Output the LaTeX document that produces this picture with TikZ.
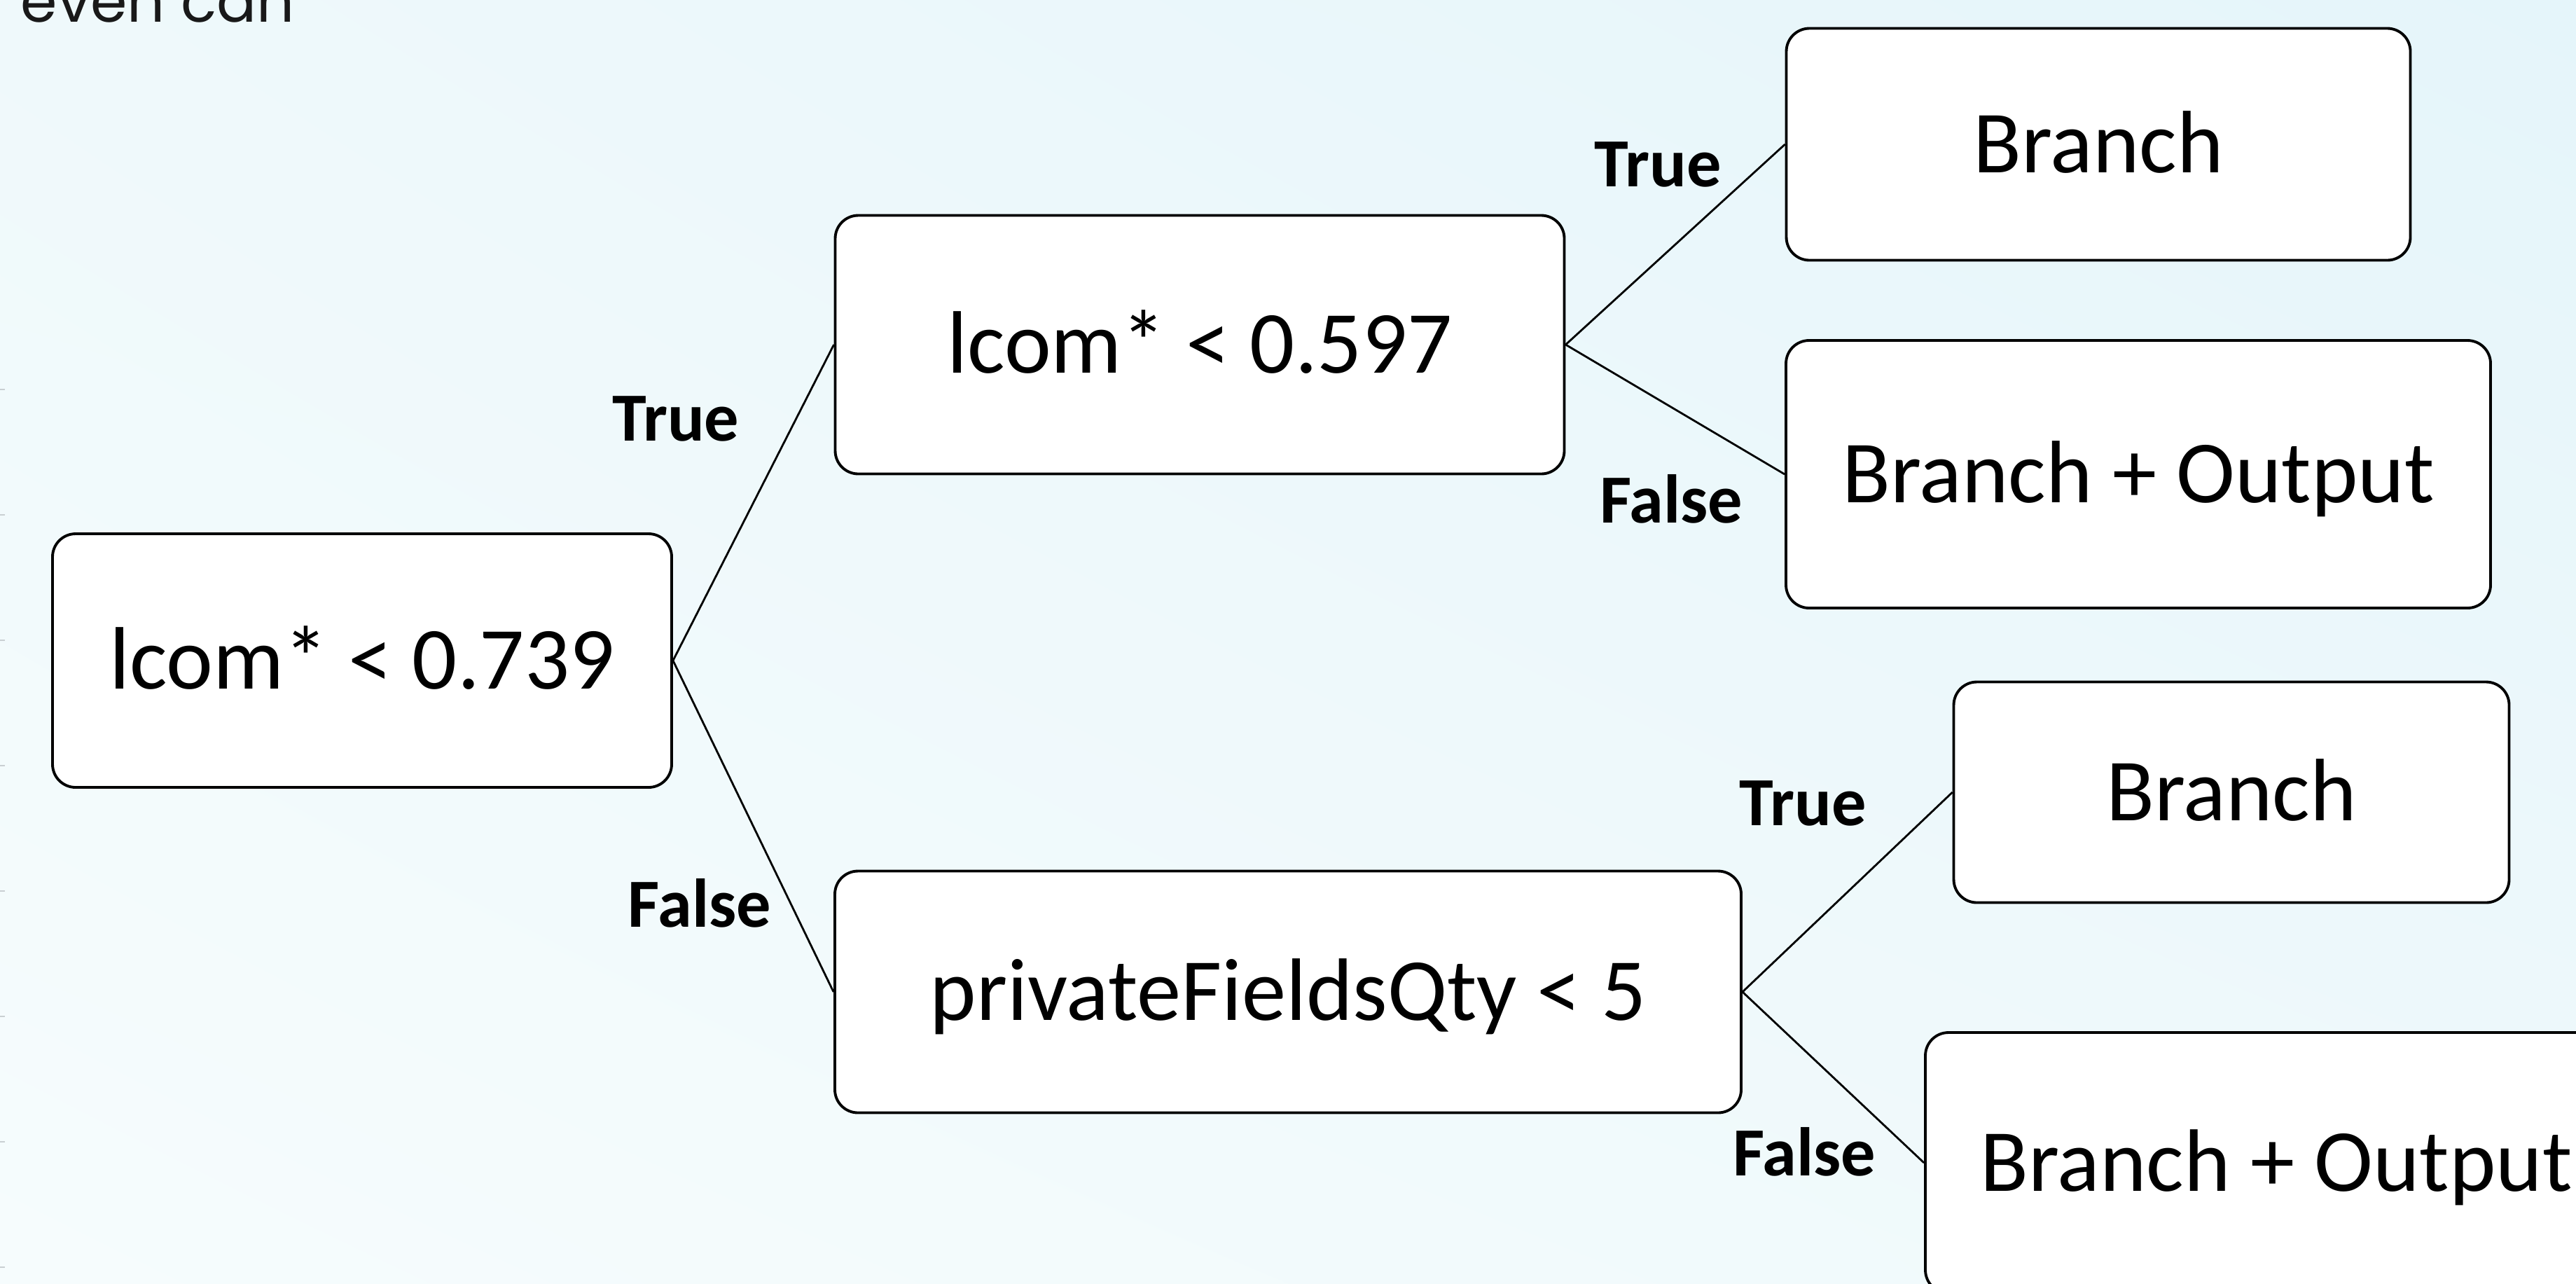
\documentclass[tikz,border=0pt]{standalone}
\usepackage{fontspec}
\usetikzlibrary{shadings}
\setmainfont{Carlito}
\newfontfamily\slidefont{Poppins}
\definecolor{bgpale}{HTML}{F6FCFD}
\definecolor{bgmid}{HTML}{EFF9FB}
\definecolor{bgcyan}{HTML}{E5F5FA}
\definecolor{tickgray}{HTML}{C9CFD2}

\begin{document}
\begin{tikzpicture}[
    box/.style={draw=black,line width=1.1pt,rounded corners=0.33cm,fill=white,
      font=\fontsize{36}{43}\selectfont,text height=23pt,text depth=0pt},
    lbl/.style={font=\bfseries\fontsize{28}{34}\selectfont,inner sep=0pt,
      text height=18pt,text depth=0pt},
    link/.style={line width=0.8pt}]

    % page and background
    \useasboundingbox (0,0) rectangle (36.78,-18.32);
    \shade[upper left=bgmid,upper right=bgcyan,lower left=bgpale,lower right=bgmid]
      (0,0) rectangle (36.78,-18.32);
    \foreach \y in {5.56,7.35,9.14,10.93,12.72,14.51,16.30,18.09}
      \draw[tickgray,line width=0.6pt] (0,-\y) -- (0.07,-\y);
    \node[anchor=base west,inner sep=0pt,text=black!90,
      font=\slidefont\fontsize{24}{29}\selectfont] (slidetext) at (0.29,-0.31) {even can};

    % split nodes
    \node[box,minimum width=8.84cm,minimum height=3.62cm] (root) at (5.17,-9.43) {lcom* < 0.739};
    \node[box,minimum width=10.41cm,minimum height=3.69cm] (upper) at (17.13,-4.92) {lcom* < 0.597};
    \node[box,minimum width=12.94cm,minimum height=3.45cm] (lower) at (18.39,-14.16) {privateFieldsQty < 5};

    % leaves
    \node[box,minimum width=8.91cm,minimum height=3.31cm] (leafA) at (29.96,-2.06) {Branch};
    \node[box,minimum width=10.06cm,minimum height=3.82cm] (leafB) at (30.53,-6.77) {Branch + Output};
    \node[box,minimum width=7.93cm,minimum height=3.15cm] (leafC) at (31.86,-11.31) {Branch};
    \node[box,minimum width=10.02cm,minimum height=3.72cm] (leafD) at (32.50,-16.60) {Branch + Output};

    % connectors
    \draw[link] (root.east) -- (upper.west);
    \draw[link] (root.east) -- (lower.west);
    \draw[link] (upper.east) -- (leafA.west);
    \draw[link] (upper.east) -- (leafB.west);
    \draw[link] (lower.east) -- (leafC.west);
    \draw[link] (lower.east) -- (leafD.west);

    % branch labels
    \node[lbl] (rootT) at (9.65,-5.98) {True};
    \node[lbl] (rootF) at (9.99,-12.92) {False};
    \node[lbl] (upperT) at (23.67,-2.35) {True};
    \node[lbl] (upperF) at (23.86,-7.15) {False};
    \node[lbl] (lowerT) at (25.74,-11.47) {True};
    \node[lbl] (lowerF) at (25.76,-16.47) {False};
\end{tikzpicture}
\end{document}
